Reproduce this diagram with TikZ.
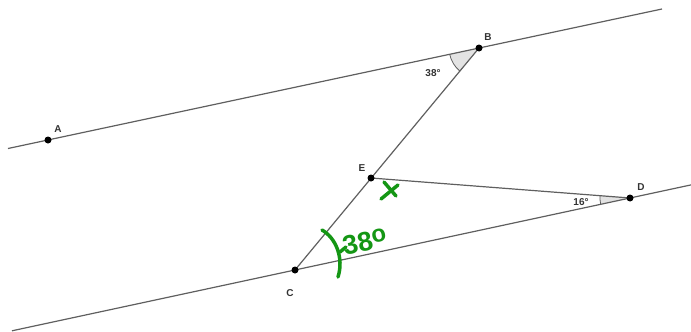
\documentclass[tikz,border=0pt]{standalone}
\usepackage{fontspec}
\setmainfont{Liberation Sans}
\usetikzlibrary{angles}
\definecolor{hand}{RGB}{20,150,20}
\definecolor{ln}{RGB}{95,95,95}
\begin{document}
\begin{tikzpicture}[x=1pt,y=-1pt,
  geoline/.style={draw=ln,line width=1.2pt},
  pt/.style={circle,fill=black,inner sep=0pt,minimum size=7pt},
  lbl/.style={font=\fontsize{10}{12}\selectfont\bfseries,text=black!80,inner sep=0pt},
  ang/.style={draw=ln,fill=gray!22,line width=0.8pt,angle radius=30pt},
  handpen/.style={draw=hand,line width=3.5pt,line cap=round,line join=round}]
\useasboundingbox (0,0) rectangle (691,332);
% points
\coordinate (A) at (48,140);
\coordinate (B) at (479,48);
\coordinate (E) at (371,178);
\coordinate (D) at (630,198);
\coordinate (C) at (295,270);
\coordinate (L1) at (8,148.5);
\coordinate (R1) at (662,9);
\coordinate (L2) at (12,330.8);
\coordinate (R2) at (691,184.9);
% angle wedges
\pic[ang] {angle = A--B--C};
\pic[ang] {angle = E--D--C};
% lines
\draw[geoline] (L1) -- (R1);
\draw[geoline] (L2) -- (R2);
\draw[geoline] (B) -- (C);
\draw[geoline] (E) -- (D);
% dots
\node[pt] (nA) at (A) {};
\node[pt] (nB) at (B) {};
\node[pt] (nE) at (E) {};
\node[pt] (nD) at (D) {};
\node[pt] (nC) at (C) {};
% labels
\node[lbl] (tA) at (58,129) {A};
\node[lbl] (tB) at (488,37) {B};
\node[lbl] (tE) at (362,168) {E};
\node[lbl] (tD) at (641,187) {D};
\node[lbl] (tC) at (290,293) {C};
\node[lbl] (t38) at (433,73) {38°};
\node[lbl] (t16) at (581,202) {16°};
% handwriting
\draw[handpen] (384,182) -- (396,196);
\draw[handpen] (381,199) -- (398,185);
\draw[handpen] (322,230) .. controls (336,238) and (344,258) .. (338,277);
\draw[handpen] (340,252) -- (346,247);
\node[text=hand,font=\fontsize{27}{27}\selectfont\bfseries,rotate=13,inner sep=0pt,anchor=base west] (h38) at (345,256) {38\raisebox{6pt}{\fontsize{24}{24}\selectfont o}};
\end{tikzpicture}
\end{document}
